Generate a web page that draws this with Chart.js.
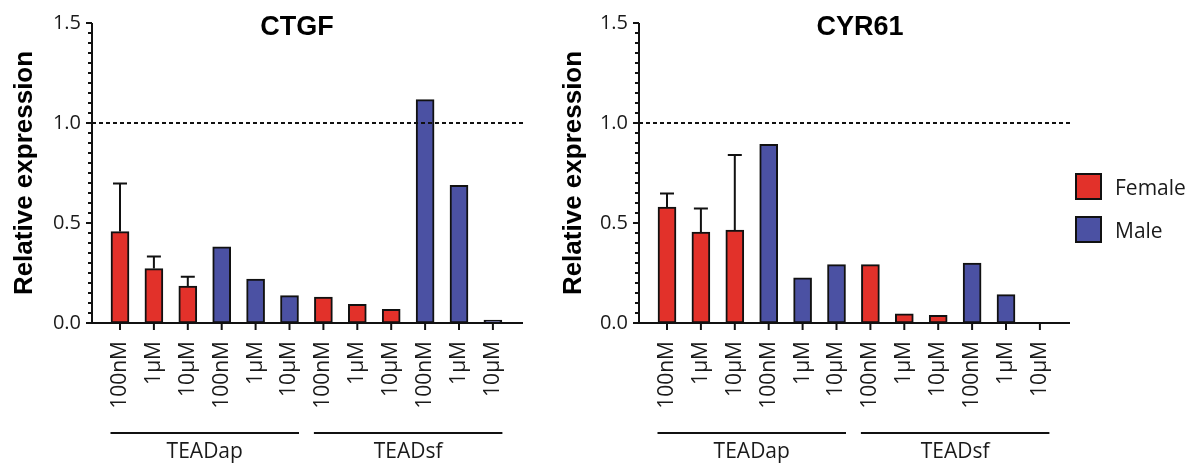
<!DOCTYPE html>
<html>
<head>
<meta charset="utf-8">
<script src="https://cdn.jsdelivr.net/npm/chart.js@4.4.1/dist/chart.umd.min.js"></script>
<style>
  body { margin: 0; background: #fff; }
  #wrap { position: relative; width: 1193px; height: 464px; overflow: hidden; }
  canvas { position: absolute; top: 0; }
  #ctgfChart { left: 0; }
  #cyr61Chart { left: 547px; }
  .legendRow { position: absolute; left: 1075px; height: 27px; display: flex; align-items: center;
               font-family: "Open Sans", sans-serif; font-size: 21px; color: #1a1a1a; }
  .legendBox { width: 23px; height: 23px; border: 2px solid #111; margin-right: 13px; }
</style>
</head>
<body>
<div id="wrap">
  <canvas id="ctgfChart" width="560" height="464"></canvas>
  <canvas id="cyr61Chart" width="560" height="464"></canvas>
  <div class="legendRow" style="top:173px"><div class="legendBox" style="background:#e2312a"></div>Female</div>
  <div class="legendRow" style="top:216px"><div class="legendBox" style="background:#4b51a3"></div>Male</div>
</div>
<script>
// categories (dose) and grouping
const doses = ["100nM", "1\u00b5M", "10\u00b5M", "100nM", "1\u00b5M", "10\u00b5M",
               "100nM", "1\u00b5M", "10\u00b5M", "100nM", "1\u00b5M", "10\u00b5M"];
const sexes = ["Female", "Female", "Female", "Male", "Male", "Male",
               "Female", "Female", "Female", "Male", "Male", "Male"];
const groupLabels = ["TEADap", "TEADsf"];
const groupSpans = [[0, 5], [6, 11]];

// relative expression
const ctgfValues = [0.457, 0.272, 0.185, 0.381, 0.219, 0.137, 0.130, 0.093, 0.068, 1.117, 0.688, 0.015];
const ctgfErrors = [0.240, 0.061, 0.046, 0, 0, 0, 0, 0, 0, 0, 0, 0];
const cyr61Values = [0.580, 0.454, 0.464, 0.893, 0.226, 0.292, 0.292, 0.046, 0.038, 0.299, 0.142, 0.003];
const cyr61Errors = [0.067, 0.118, 0.376, 0, 0, 0, 0, 0, 0, 0, 0, 0];

const yTickValues = [0, 0.5, 1.0, 1.5];
const referenceLevel = 1.0;

const sexColors = { Female: "#e2312a", Male: "#4b51a3" };
const INK = "#111";
const TICK_FONT = { family: "'Open Sans', sans-serif", size: 20 };

// draws axes, minor ticks, dashed reference line, error bars, titles, group brackets
const decorPlugin = {
    id: "decor",
    afterDatasetsDraw(chart, args, opts) {
        const ctx = chart.ctx;
        const xs = chart.scales.x;
        const ys = chart.scales.y;
        const area = chart.chartArea;
        const y0 = ys.getPixelForValue(0);
        const ds = chart.data.datasets[0];
        const meta = chart.getDatasetMeta(0);

        ctx.save();
        ctx.strokeStyle = INK;
        ctx.fillStyle = INK;

        // dashed line at 1.0
        ctx.lineWidth = 2;
        ctx.setLineDash([4, 3]);
        const yRef = Math.round(ys.getPixelForValue(referenceLevel));
        ctx.beginPath();
        ctx.moveTo(area.left, yRef);
        ctx.lineTo(area.right, yRef);
        ctx.stroke();
        ctx.setLineDash([]);

        // error bars (upper only)
        ds.errors.forEach((err, i) => {
            if (!err) return;
            const bar = meta.data[i];
            const yTop = ys.getPixelForValue(ds.data[i].y + err);
            ctx.lineWidth = 2;
            ctx.beginPath();
            ctx.moveTo(bar.x, bar.y);
            ctx.lineTo(bar.x, yTop);
            ctx.moveTo(bar.x - 7, yTop);
            ctx.lineTo(bar.x + 7, yTop);
            ctx.stroke();
        });

        // axis lines
        ctx.lineWidth = 2;
        ctx.beginPath();
        ctx.moveTo(area.left, area.top);
        ctx.lineTo(area.left, y0 + 1);
        ctx.moveTo(area.left - 6, y0);
        ctx.lineTo(area.right, y0);
        ctx.stroke();

        // y ticks: major every 0.5, minor every 0.05
        for (let k = 0; k <= 30; k++) {
            const py = Math.round(ys.getPixelForValue(k * 0.05));
            const len = (k % 10 === 0) ? 6 : 4;
            ctx.beginPath();
            ctx.moveTo(area.left - len, py);
            ctx.lineTo(area.left, py);
            ctx.stroke();
        }

        // x ticks
        meta.data.forEach(bar => {
            ctx.beginPath();
            ctx.moveTo(bar.x, y0);
            ctx.lineTo(bar.x, y0 + 7);
            ctx.stroke();
        });

        // group brackets
        ctx.font = "21px 'Open Sans', sans-serif";
        ctx.textAlign = "center";
        ctx.textBaseline = "alphabetic";
        ctx.fillStyle = "#1a1a1a";
        groupSpans.forEach((span, g) => {
            const x1 = xs.getPixelForValue(span[0]) - 9.5;
            const x2 = xs.getPixelForValue(span[1]) + 9.5;
            ctx.beginPath();
            ctx.moveTo(x1, 433);
            ctx.lineTo(x2, 433);
            ctx.stroke();
            ctx.fillText(groupLabels[g], (x1 + x2) / 2, 458);
        });

        // title
        ctx.fillStyle = "#000";
        ctx.font = "bold 27px 'Liberation Sans', Arial, sans-serif";
        ctx.textBaseline = "alphabetic";
        ctx.fillText(opts.title, opts.titleX, 35);

        // y axis title
        ctx.translate(opts.yTitleX, (area.top + area.bottom) / 2);
        ctx.rotate(-Math.PI / 2);
        ctx.font = "bold 26px 'Liberation Sans', Arial, sans-serif";
        ctx.fillText("Relative expression", 0, 0);
        ctx.restore();
    }
};

function makeChart(canvasId, values, errors, title, titleX, yTitleX) {
    const axisLeft = 92;
    const axisRight = 523;
    const firstCenter = 120;
    const step = 33.9;

    return new Chart(document.getElementById(canvasId).getContext("2d"), {
        type: "bar",
        data: {
            datasets: [{
                data: values.map((v, i) => ({ x: i, y: v })),
                errors: errors,
                backgroundColor: sexes.map(s => sexColors[s]),
                borderColor: INK,
                borderWidth: 2,
                borderSkipped: false,
                barThickness: 18
            }]
        },
        options: {
            responsive: false,
            animation: false,
            layout: { padding: { left: 0, right: 560 - axisRight, top: 21, bottom: 0 } },
            plugins: {
                legend: { display: false },
                tooltip: { enabled: false },
                decor: { title: title, titleX: titleX, yTitleX: yTitleX }
            },
            scales: {
                x: {
                    type: "linear",
                    offset: false,
                    min: (axisLeft - firstCenter) / step,
                    max: (axisRight - firstCenter) / step,
                    grid: { display: false, drawTicks: false, offset: false },
                    border: { display: false },
                    afterBuildTicks: scale => {
                        scale.ticks = doses.map((d, i) => ({ value: i }));
                    },
                    afterFit: scale => { scale.height = 464 - 323; },
                    ticks: {
                        autoSkip: false,
                        minRotation: 90,
                        maxRotation: 90,
                        padding: 18,
                        color: "#1a1a1a",
                        font: { family: "'Open Sans', sans-serif", size: 21 },
                        callback: v => doses[v]
                    }
                },
                y: {
                    min: 0,
                    max: 1.5,
                    grid: { display: false, drawTicks: false },
                    border: { display: false },
                    afterBuildTicks: scale => {
                        scale.ticks = yTickValues.map(v => ({ value: v }));
                    },
                    afterFit: scale => { scale.width = axisLeft; },
                    ticks: {
                        padding: 11,
                        color: "#1a1a1a",
                        font: TICK_FONT,
                        callback: v => v.toFixed(1)
                    }
                }
            }
        },
        plugins: [decorPlugin]
    });
}

makeChart("ctgfChart", ctgfValues, ctgfErrors, "CTGF", 297, 32);
makeChart("cyr61Chart", cyr61Values, cyr61Errors, "CYR61", 313, 34);
</script>
</body>
</html>
